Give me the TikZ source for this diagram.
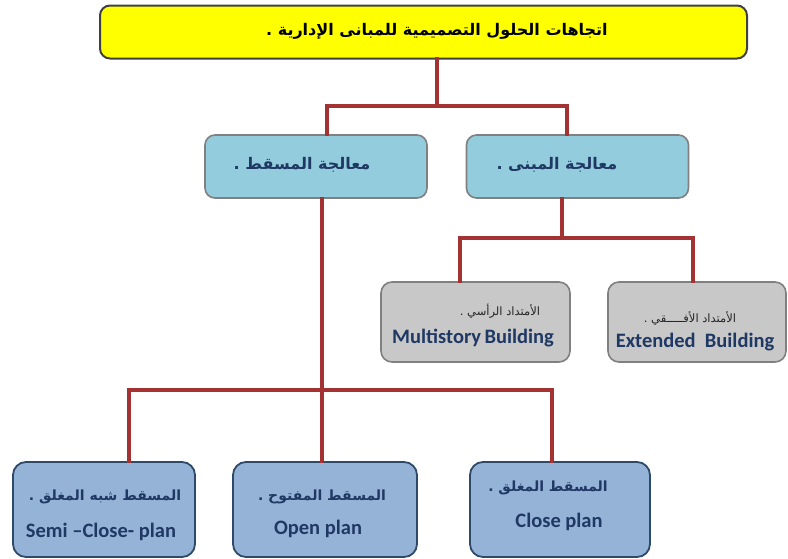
\documentclass[tikz,border=0pt]{standalone}
\usepackage{fontspec}
\TeXXeTstate=1
\newfontfamily\arabicfont[Script=Arabic]{DejaVu Sans}
\newfontfamily\enfont{Carlito}
\definecolor{conncol}{HTML}{A33232}
\definecolor{topfill}{HTML}{FFFF00}
\definecolor{midfill}{HTML}{93CDDD}
\definecolor{grayfill}{HTML}{C8C8C8}
\definecolor{botfill}{HTML}{95B3D7}
\definecolor{botdraw}{HTML}{2F4A68}
\definecolor{navy}{HTML}{1F3864}
\newcommand{\ar}[1]{{\arabicfont\beginR #1\endR}}
\tikzset{
  conn/.style={draw=conncol, line width=4.5pt, line join=miter, line cap=rect},
  topbox/.style={draw={black!75}, line width=2pt, fill=topfill, rounded corners=10pt,
    minimum width=647pt, minimum height=53pt, inner sep=0pt},
  midbox/.style={draw={black!50}, line width=1.6pt, fill=midfill, rounded corners=10pt,
    minimum width=222pt, minimum height=63pt, inner sep=0pt},
  graybox/.style={draw={black!50}, line width=1.6pt, fill=grayfill, rounded corners=11pt,
    minimum height=80pt, inner sep=0pt},
  botbox/.style={draw=botdraw, line width=1.8pt, fill=botfill, rounded corners=13pt,
    minimum height=95pt, inner sep=0pt},
  txt/.style={inner sep=0pt, text=navy},
  toptxt/.style={inner sep=0pt, text=black, font=\fontsize{16}{18}\selectfont\bfseries},
  midtxt/.style={txt, font=\fontsize{16}{18}\selectfont\bfseries},
  grayar/.style={txt, text=black!85, font=\fontsize{11.5}{13}\selectfont},
  grayen/.style={txt, font=\enfont\bfseries\fontsize{20.5}{22}\selectfont},
  botar/.style={txt, font=\fontsize{14}{16}\selectfont\bfseries},
  boten/.style={txt, font=\enfont\bfseries\fontsize{20.5}{22}\selectfont}
}
\begin{document}
\begin{tikzpicture}[x=1pt,y=-1pt]
\useasboundingbox (0,0) rectangle (788,558);
% junction coordinates
\coordinate (t1) at (437,106);
\coordinate (l1) at (327,106);
\coordinate (r1) at (567,106);
\coordinate (t2) at (562,238);
\coordinate (l2) at (460,238);
\coordinate (r2) at (693,238);
\coordinate (t3) at (322,390);
\coordinate (l3) at (129,390);
\coordinate (r3) at (552,390);
% boxes
\node[topbox] (top) at (423.5,32) {};
\node[midbox] (mL) at (316,166.5) {};
\node[midbox] (mR) at (577.5,166.5) {};
\node[graybox, minimum width=189pt] (gL) at (475.5,322) {};
\node[graybox, minimum width=178pt] (gR) at (697,322) {};
\node[botbox, minimum width=182pt] (b1) at (104,509.5) {};
\node[botbox, minimum width=184pt] (b2) at (325,509.5) {};
\node[botbox, minimum width=180pt] (b3) at (560,509.5) {};
% texts
\node[toptxt] (topT) at (437,31) {\ar{اتجاهات الحلول التصميمية للمبانى الإدارية .}};
\node[midtxt] (mLT) at (302,165) {\ar{معالجة المسقط .}};
\node[midtxt] (mRT) at (557,165) {\ar{معالجة المبنى .}};
\node[grayar] (gLa) at (500,311) {\ar{الأمتداد الرأسي .}};
\node[grayen] (gLb) at (473,338) {Multistory\,Building};
\node[grayar] (gRa) at (690,318) {\ar{الأمتداد الأفـــــقي .}};
\node[grayen] (gRb) at (695,342) {Extended\ \ Building};
\node[botar] (b1a) at (105,497) {\ar{المسقط شبه المغلق .}};
\node[boten] (b1b) at (101,532) {Semi –Close- plan};
\node[botar] (b2a) at (322,497) {\ar{المسقط المفتوح .}};
\node[boten] (b2b) at (318,529) {Open plan};
\node[botar] (b3a) at (548,488) {\ar{المسقط المغلق .}};
\node[boten] (b3b) at (559,522) {Close plan};
% connectors
\draw[conn] (top.south -| t1) -- (t1);
\draw[conn] (mL.north -| l1) -- (l1) -- (r1) -- (mR.north -| r1);
\draw[conn] (mR.south -| t2) -- (t2);
\draw[conn] (gL.north -| l2) -- (l2) -- (r2) -- (gR.north -| r2);
\draw[conn] (mL.south -| t3) -- (t3 |- b2.north);
\draw[conn] (b1.north -| l3) -- (l3) -- (r3) -- (b3.north -| r3);
\end{tikzpicture}
\end{document}
